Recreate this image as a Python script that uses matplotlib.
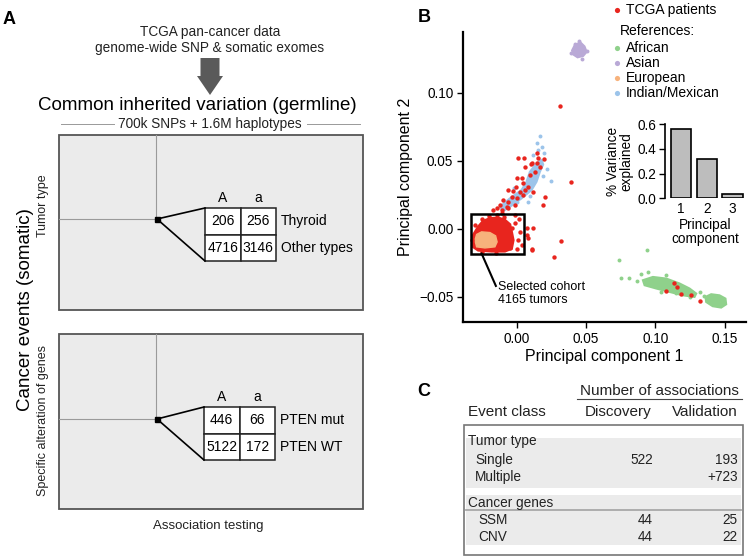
import numpy as np
import matplotlib
matplotlib.use("Agg")
import matplotlib.pyplot as plt
from matplotlib.patches import Rectangle, FancyArrow

plt.rcParams['font.family'] = ['Liberation Sans', 'DejaVu Sans']
plt.rcParams['font.size'] = 10

# ---- Panel A: contingency tables
tab1_counts = [[206, 256], [4716, 3146]]
tab1_rows = ["Thyroid", "Other types"]
tab2_counts = [[446, 66], [5122, 172]]
tab2_rows = ["PTEN mut", "PTEN WT"]
allele_cols = ["A", "a"]

# ---- Panel B: PCA
red_core_x = [-0.0276, -0.024, -0.0192, -0.0132, -0.0084, -0.0048, -0.0036, -0.0024,
              -0.0036, -0.0084, -0.018, -0.0276, -0.0312, -0.0312]
red_core_y = [0.0015, 0.0057, 0.0076, 0.0081, 0.0064, 0.0032, -0.0022, -0.0083,
              -0.0144, -0.0164, -0.0164, -0.0157, -0.0132, -0.0046]
euro_core_x = [-0.0288, -0.0252, -0.0192, -0.0151, -0.014, -0.0156, -0.0228, -0.0288, -0.03]
euro_core_y = [-0.0041, -0.0022, -0.0027, -0.0051, -0.0096, -0.0132, -0.014, -0.0132, -0.0083]
ind_core_x = [-0.012, -0.0048, 0.0036, 0.0072, 0.0096, 0.0144, 0.018, 0.0192, 0.0168,
              0.0144, 0.0108, 0.0036, -0.0048, -0.0096]
ind_core_y = [0.0162, 0.0224, 0.0285, 0.0346, 0.0419, 0.0481, 0.0505, 0.0473, 0.0419,
              0.0346, 0.0285, 0.0224, 0.0162, 0.013]
afr_core1_x = [0.0911, 0.0983, 0.1079, 0.1175, 0.1247, 0.1295, 0.1283, 0.1199, 0.1103, 0.1007, 0.0923]
afr_core1_y = [-0.0377, -0.0353, -0.0365, -0.0401, -0.0438, -0.0475, -0.05, -0.0488, -0.0463, -0.0438, -0.0414]
afr_core2_x = [0.1362, 0.1403, 0.1463, 0.1506, 0.1511, 0.1475, 0.1414, 0.1367]
afr_core2_y = [-0.05, -0.048, -0.0488, -0.0512, -0.0554, -0.0578, -0.0568, -0.0537]
asn_core_x = [0.040, 0.042, 0.046, 0.049, 0.0505, 0.048, 0.044, 0.041]
asn_core_y = [0.131, 0.135, 0.137, 0.134, 0.130, 0.127, 0.126, 0.128]

ind_pts_x = [0.0168, 0.0145, 0.018, 0.0155, 0.020, 0.012, 0.022, 0.000, 0.008, -0.002, 0.025, 0.010, 0.019]
ind_pts_y = [0.068, 0.063, 0.0605, 0.058, 0.056, 0.054, 0.044, 0.020, 0.020, 0.030, 0.035, 0.024, 0.039]
afr_pts_x = [0.0736, 0.0942, 0.0755, 0.081, 0.0894, 0.0947, 0.087, 0.132, 0.135, 0.104, 0.125, 0.115, 0.098, 0.108]
afr_pts_y = [-0.0225, -0.0157, -0.036, -0.036, -0.0328, -0.032, -0.038, -0.046, -0.049, -0.046, -0.050, -0.047, -0.041, -0.034]
asn_pts_x = [0.039, 0.051, 0.045, 0.047, 0.042]
asn_pts_y = [0.129, 0.131, 0.138, 0.125, 0.136]

tcga_x = [0.0012, 0.0055, 0.0144, 0.0155, 0.0196, 0.006, 0.0103, 0.0144, 0.0168, 0.0, 0.0036,
          0.0048, -0.0005, -0.006, -0.0024, 0.0024, 0.006, 0.012, -0.0036, 0.0, 0.0048, -0.0096,
          -0.006, -0.0012, -0.012, -0.0072, -0.0144, -0.0168, -0.0108, 0.0204, 0.0192, 0.0396,
          0.0083, 0.0132, 0.0096, 0.0312, 0.0112,
          -0.006, -0.0108, -0.0012, 0.0017, -0.0012, 0.0072, 0.0115, 0.0024, 0.0072, 0.0012,
          0.0083, 0.0036, 0.0108, 0.0, -0.0048, 0.0319, 0.027, -0.0108, -0.0072, -0.0036,
          -0.0048, 0.0112,
          0.1132, 0.1074, 0.1156, 0.1187, 0.1259, 0.1326,
          -0.02, -0.025, -0.03, -0.032, -0.015, -0.025, -0.009, -0.014]
tcga_y = [0.0518, 0.0518, 0.0554, 0.0518, 0.051, 0.0456, 0.0473, 0.0481, 0.0456, 0.037, 0.037,
          0.0334, 0.0309, 0.0285, 0.0277, 0.0272, 0.0285, 0.0272, 0.0235, 0.0224, 0.0248, 0.0211,
          0.0199, 0.0179, 0.0174, 0.0162, 0.015, 0.0138, 0.0138, 0.0235, 0.0174, 0.0341,
          0.0309, 0.0419, 0.0395, 0.0902, 0.0485,
          0.015, 0.0113, 0.0101, 0.0071, 0.004, 0.0003, 0.0007, -0.0022, -0.0046, -0.0083,
          -0.0066, -0.012, -0.0149, -0.0149, -0.0144, -0.0088, -0.0206, -0.012, -0.0083, 0.0003,
          -0.0034, -0.0152,
          -0.0397, -0.0453, -0.0426, -0.048, -0.0488, -0.0529,
          0.0095, 0.0075, 0.003, -0.008, -0.0175, -0.017, 0.0085, 0.0105]

groups = ["African", "Asian", "European", "Indian/Mexican"]
group_colors = ["#8fd18b", "#b9a9d6", "#f7b27c", "#9cc4ea"]
red = "#e8251e"

pc_labels = ["1", "2", "3"]
var_explained = [0.557, 0.315, 0.035]

# ---- Panel C: associations table
sections = ["Tumor type", "Cancer genes"]
event_rows = [["Single", "Multiple"], ["SSM", "CNV"]]
discovery = [["522", ""], ["44", "44"]]
validation = [["193", "+723"], ["25", "22"]]

fig = plt.figure(figsize=(7.5, 5.6), dpi=100)
cv = fig.add_axes([0, 0, 1, 1])
cv.set_xlim(0, 750)
cv.set_ylim(560, 0)
cv.axis('off')

# panel letters
cv.text(9, 20, "A", fontsize=13, fontweight='bold', ha='center', va='center')
cv.text(424, 17, "B", fontsize=13, fontweight='bold', ha='center', va='center')
cv.text(424, 391, "C", fontsize=13, fontweight='bold', ha='center', va='center')

# ---- panel A
cv.text(210, 32, "TCGA pan-cancer data", ha='center', va='center', fontsize=9.8, color='#222222')
cv.text(210, 48, "genome-wide SNP & somatic exomes", ha='center', va='center', fontsize=9.8, color='#222222')
cv.add_patch(FancyArrow(210, 58, 0, 37, width=19, head_width=26, head_length=19,
                        length_includes_head=True, color='#5a5a5a', lw=0))
cv.text(197, 106, "Common inherited variation (germline)", ha='center', va='center', fontsize=13.5)
cv.text(210, 124, "700k SNPs + 1.6M haplotypes", ha='center', va='center', fontsize=9.8, color='#222222')
cv.plot([61, 114], [124, 124], color='#999999', lw=0.7)
cv.plot([307, 360], [124, 124], color='#999999', lw=0.7)
cv.text(26, 310, "Cancer events (somatic)", rotation=90, ha='center', va='center', fontsize=13.5)
cv.text(208, 526, "Association testing", ha='center', va='center', fontsize=9.5, color='#222222')


def draw_block(top, bottom, sq_y, tx, ty, counts, rows, ylabel, ylab_y):
    cv.add_patch(Rectangle((59, top), 304, bottom - top, facecolor='#ebebeb',
                           edgecolor='#555555', lw=1.3))
    cv.plot([156, 156], [top, sq_y], color='#9a9a9a', lw=0.8)
    cv.plot([59, 156], [sq_y, sq_y], color='#9a9a9a', lw=0.8)
    cw, ch = 35.5, 26.5
    cv.plot([157, tx], [sq_y, ty], color='black', lw=1.2)
    cv.plot([157, tx], [sq_y, ty + 2 * ch], color='black', lw=1.2)
    cv.add_patch(Rectangle((154.5, sq_y - 2.5), 5, 5, facecolor='black', edgecolor='black', zorder=3))
    for i in range(2):
        for j in range(2):
            cv.add_patch(Rectangle((tx + j * cw, ty + i * ch), cw, ch, facecolor='white',
                                   edgecolor='#222222', lw=1.1))
            cv.text(tx + (j + 0.5) * cw, ty + (i + 0.5) * ch, str(counts[i][j]),
                    ha='center', va='center', fontsize=10)
        cv.text(tx + 2 * cw + 5, ty + (i + 0.5) * ch, rows[i], ha='left', va='center', fontsize=10)
    for j in range(2):
        cv.text(tx + (j + 0.5) * cw, ty - 10, allele_cols[j], ha='center', va='center', fontsize=10)
    cv.text(43, ylab_y, ylabel, rotation=90,
            ha='center', va='center', fontsize=9, color='#222222')


draw_block(135, 310, 219, 205, 208, tab1_counts, tab1_rows, "Tumor type", 206)
draw_block(334, 509, 419, 204, 407, tab2_counts, tab2_rows, "Specific alteration of genes", 421)

# ---- panel B
ax = fig.add_axes([463 / 750, (560 - 322) / 560, (746 - 463) / 750, (322 - 32) / 560])
ax.set_facecolor('none')
ax.fill(asn_core_x, asn_core_y, color=group_colors[1], lw=1.5)
ax.scatter(asn_pts_x, asn_pts_y, s=8, color=group_colors[1], lw=0)
ax.fill(afr_core1_x, afr_core1_y, color=group_colors[0], lw=1.5)
ax.fill(afr_core2_x, afr_core2_y, color=group_colors[0], lw=1.5)
ax.scatter(afr_pts_x, afr_pts_y, s=8, color=group_colors[0], lw=0)
ax.fill(ind_core_x, ind_core_y, color=group_colors[3], lw=1.5)
ax.scatter(ind_pts_x, ind_pts_y, s=8, color=group_colors[3], lw=0)
ax.fill(red_core_x, red_core_y, color=red, lw=2)
ax.fill(euro_core_x, euro_core_y, color=group_colors[2], lw=1)
ax.scatter(tcga_x, tcga_y, s=10, color=red, lw=0, zorder=3)

ax.set_xlim(-0.0386, 0.1654)
ax.set_ylim(-0.0684, 0.1446)
ax.set_xticks([0.0, 0.05, 0.10, 0.15])
ax.set_xticklabels(["0.00", "0.05", "0.10", "0.15"])
ax.set_yticks([-0.05, 0.0, 0.05, 0.10])
ax.set_yticklabels(["\u22120.05", "0.00", "0.05", "0.10"])
for s in ['top', 'right']:
    ax.spines[s].set_visible(False)
for s in ['left', 'bottom']:
    ax.spines[s].set_linewidth(1.6)
ax.tick_params(length=4, width=1, labelsize=9.8, pad=3)
ax.set_xlabel("Principal component 1", fontsize=11.5, labelpad=2)
ax.set_ylabel("Principal component 2", fontsize=11.5, labelpad=4)

# selected cohort box
ax.add_patch(Rectangle((-0.0331, -0.0181), 0.0384, 0.0287, fill=False, edgecolor='black', lw=1.8, zorder=4))
ax.plot([-0.0252, -0.0149], [-0.0181, -0.0419], color='black', lw=1.5, zorder=4)
ax.text(-0.0135, -0.0476, "Selected cohort\n4165 tumors", ha='left', va='center',
        fontsize=9, linespacing=1.05)

# legend
cv.scatter([617], [10], s=14, color=red, lw=0)
cv.text(626, 10, "TCGA patients", ha='left', va='center', fontsize=10)
cv.text(620, 31, "References:", ha='left', va='center', fontsize=10)
for k, g in enumerate(groups):
    yy = 48 + k * 15
    cv.scatter([617], [yy], s=14, color=group_colors[k], lw=0)
    cv.text(626, yy, g, ha='left', va='center', fontsize=10)

# inset bars
ins = fig.add_axes([665 / 750, (560 - 198.3) / 560, 80 / 750, (198.3 - 124) / 560])
ins.set_facecolor('none')
ins.bar([1, 2, 3], var_explained, width=0.78, color='#bdbdbd', edgecolor='black', lw=1.2)
ins.set_xlim(0.39, 3.48)
ins.set_ylim(0, 0.6)
ins.set_yticks([0.0, 0.2, 0.4, 0.6])
ins.set_yticklabels(["0.0", "0.2", "0.4", "0.6"])
ins.set_xticks([1, 2, 3])
ins.set_xticklabels(pc_labels)
for s in ['top', 'right', 'bottom']:
    ins.spines[s].set_visible(False)
ins.spines['left'].set_linewidth(1.2)
ins.tick_params(axis='y', length=4, width=1, labelsize=9.8, pad=2)
ins.tick_params(axis='x', length=0, labelsize=9.8, pad=3)
ins.set_ylabel("% Variance\nexplained", fontsize=9.8, labelpad=3, linespacing=0.95)
ins.set_xlabel("Principal\ncomponent", fontsize=9.8, labelpad=1, linespacing=1.05)

# ---- panel C
cv.text(659, 391, "Number of associations", ha='center', va='center', fontsize=11, color='#222222')
cv.plot([577, 742], [399, 399], color='#444444', lw=0.8)
cv.text(468, 412, "Event class", ha='left', va='center', fontsize=11, color='#222222')
cv.text(618, 412, "Discovery", ha='center', va='center', fontsize=11, color='#222222')
cv.text(705, 412, "Validation", ha='center', va='center', fontsize=11, color='#222222')
cv.add_patch(Rectangle((464, 425), 279, 130, facecolor='white', edgecolor='#777777', lw=1.2))
cv.add_patch(Rectangle((466, 438), 275, 50, facecolor='#ebebeb', lw=0))
cv.add_patch(Rectangle((466, 495), 275, 50, facecolor='#ebebeb', lw=0))
cv.plot([466, 741], [509.5, 509.5], color='#a8a8a8', lw=1.3)
sec_y = [441.5, 502.5]
row_y = [[460, 477.3], [520, 536.7]]
row_x = [475, 478]
for si, sec in enumerate(sections):
    cv.text(468, sec_y[si], sec, ha='left', va='center', fontsize=9.8, color='#222222')
    for ri, r in enumerate(event_rows[si]):
        cv.text(row_x[si], row_y[si][ri], r, ha='left', va='center', fontsize=9.8, color='#222222')
        cv.text(653, row_y[si][ri], discovery[si][ri], ha='right', va='center', fontsize=9.8, color='#222222')
        cv.text(737.5, row_y[si][ri], validation[si][ri], ha='right', va='center', fontsize=9.8, color='#222222')

fig.savefig("out.png", dpi=100)
